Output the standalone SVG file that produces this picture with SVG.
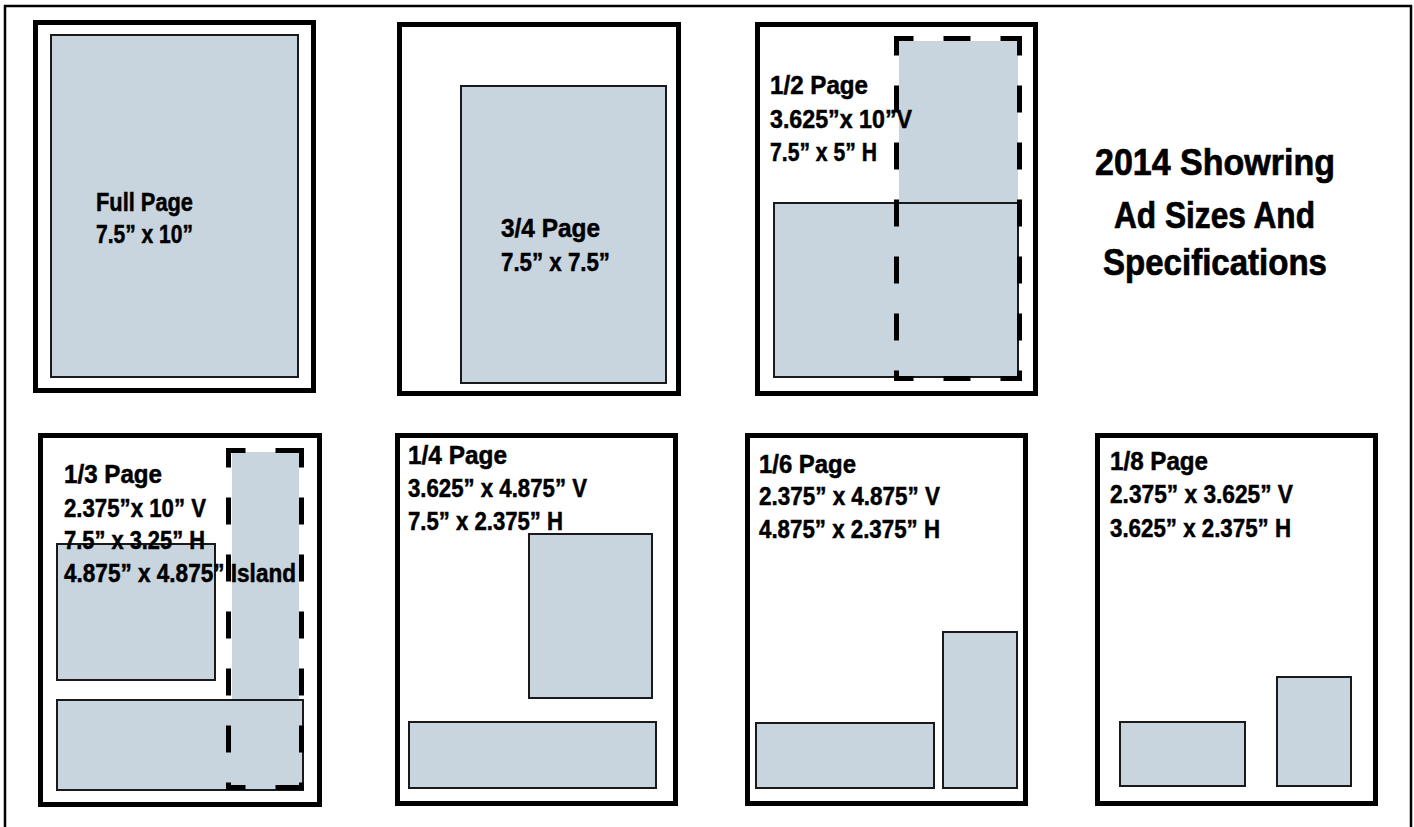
<svg xmlns="http://www.w3.org/2000/svg" width="1414" height="827" viewBox="0 0 1414 827">
<style>
.page{fill:#fff;stroke:#000;stroke-width:5}
.ad{fill:#c8d5de;stroke:#1a1a1a;stroke-width:2}
.adfill{fill:#c8d5de;stroke:none}
.dash{fill:none;stroke:#000;stroke-width:5;stroke-dasharray:22 35;stroke-dashoffset:7.5;stroke-linecap:square}
.lbl{font-family:"Liberation Sans Narrow","Liberation Sans",Arial,sans-serif;font-weight:bold;font-size:25px;fill:#000;stroke:#000;stroke-width:0.5}
.title{font-family:"Liberation Sans Narrow","Liberation Sans",Arial,sans-serif;font-weight:bold;font-size:37px;fill:#000;stroke:#000;stroke-width:0.7}
</style>
<rect width="1414" height="827" fill="#fff"/>
<path d="M5,827 V6 H1411 V827" fill="none" stroke="#000" stroke-width="2.5"/>

<g id="full-page">
<rect class="page" x="35.5" y="22.5" width="278" height="368"/>
<rect class="ad" x="51" y="35" width="247" height="342"/>
<text class="lbl" x="96" y="211" textLength="97" lengthAdjust="spacingAndGlyphs">Full Page</text>
<text class="lbl" x="96" y="243" textLength="97" lengthAdjust="spacingAndGlyphs">7.5” x 10”</text>
</g>

<g id="three-quarter-page">
<rect class="page" x="399.5" y="24.5" width="279" height="369"/>
<rect class="ad" x="461" y="86" width="205" height="297"/>
<text class="lbl" x="501" y="237" textLength="99" lengthAdjust="spacingAndGlyphs">3/4  Page</text>
<text class="lbl" x="501" y="271" textLength="109" lengthAdjust="spacingAndGlyphs">7.5” x 7.5”</text>
</g>

<g id="half-page">
<rect class="page" x="757.5" y="24.5" width="278" height="369"/>
<rect class="adfill" x="899" y="41" width="119" height="337"/>
<rect class="ad" x="774" y="203" width="244" height="174"/>
<path class="dash" d="M896.5,38.5 H1019.5"/>
<path class="dash" d="M896.5,38.5 V378.5"/>
<path class="dash" d="M1019.5,38.5 V378.5"/>
<path class="dash" d="M896.5,378.5 H1019.5"/>
<text class="lbl" x="770" y="94" textLength="98" lengthAdjust="spacingAndGlyphs">1/2  Page</text>
<text class="lbl" x="770" y="128" textLength="142" lengthAdjust="spacingAndGlyphs">3.625”x 10”V</text>
<text class="lbl" x="770" y="161" textLength="107" lengthAdjust="spacingAndGlyphs">7.5” x 5” H</text>
</g>

<g id="title">
<text class="title" x="1095" y="175" textLength="240" lengthAdjust="spacingAndGlyphs">2014 Showring</text>
<text class="title" x="1114" y="228" textLength="201" lengthAdjust="spacingAndGlyphs">Ad Sizes And</text>
<text class="title" x="1103" y="275" textLength="224" lengthAdjust="spacingAndGlyphs">Specifications</text>
</g>

<g id="third-page">
<rect class="page" x="40.5" y="435.5" width="279" height="369"/>
<rect class="adfill" x="232" y="452" width="67" height="336"/>
<rect class="ad" x="57" y="544" width="158" height="136"/>
<rect class="ad" x="57" y="700" width="246" height="90"/>
<path class="dash" d="M228.5,450.5 H301.5"/>
<path class="dash" d="M228.5,450.5 V787.5"/>
<path class="dash" d="M301.5,450.5 V787.5"/>
<path class="dash" d="M228.5,787.5 H301.5"/>
<text class="lbl" x="64" y="483" textLength="98" lengthAdjust="spacingAndGlyphs">1/3  Page</text>
<text class="lbl" x="64" y="517" textLength="142" lengthAdjust="spacingAndGlyphs">2.375”x 10” V</text>
<text class="lbl" x="64" y="549" textLength="141" lengthAdjust="spacingAndGlyphs">7.5” x 3.25” H</text>
<text class="lbl" x="64" y="582" textLength="232" lengthAdjust="spacingAndGlyphs">4.875” x 4.875” Island</text>
</g>

<g id="quarter-page">
<rect class="page" x="397.5" y="435.5" width="278" height="368"/>
<rect class="ad" x="529" y="534" width="123" height="164"/>
<rect class="ad" x="409" y="722" width="247" height="66"/>
<text class="lbl" x="408" y="464" textLength="99" lengthAdjust="spacingAndGlyphs">1/4  Page</text>
<text class="lbl" x="408" y="497" textLength="179" lengthAdjust="spacingAndGlyphs">3.625” x 4.875” V</text>
<text class="lbl" x="408" y="530" textLength="155" lengthAdjust="spacingAndGlyphs">7.5” x 2.375” H</text>
</g>

<g id="sixth-page">
<rect class="page" x="747.5" y="435.5" width="278" height="368"/>
<rect class="ad" x="943" y="632" width="74" height="156"/>
<rect class="ad" x="756" y="723" width="178" height="65"/>
<text class="lbl" x="759" y="473" textLength="97" lengthAdjust="spacingAndGlyphs">1/6  Page</text>
<text class="lbl" x="759" y="505" textLength="181" lengthAdjust="spacingAndGlyphs">2.375” x 4.875” V</text>
<text class="lbl" x="759" y="538" textLength="181" lengthAdjust="spacingAndGlyphs">4.875” x 2.375” H</text>
</g>

<g id="eighth-page">
<rect class="page" x="1097.5" y="435.5" width="278" height="368"/>
<rect class="ad" x="1277" y="677" width="74" height="109"/>
<rect class="ad" x="1120" y="722" width="125" height="64"/>
<text class="lbl" x="1110" y="470" textLength="98" lengthAdjust="spacingAndGlyphs">1/8  Page</text>
<text class="lbl" x="1110" y="503" textLength="183" lengthAdjust="spacingAndGlyphs">2.375” x 3.625”  V</text>
<text class="lbl" x="1110" y="537" textLength="181" lengthAdjust="spacingAndGlyphs">3.625” x 2.375” H</text>
</g>

<g id="connectors"></g>
</svg>
